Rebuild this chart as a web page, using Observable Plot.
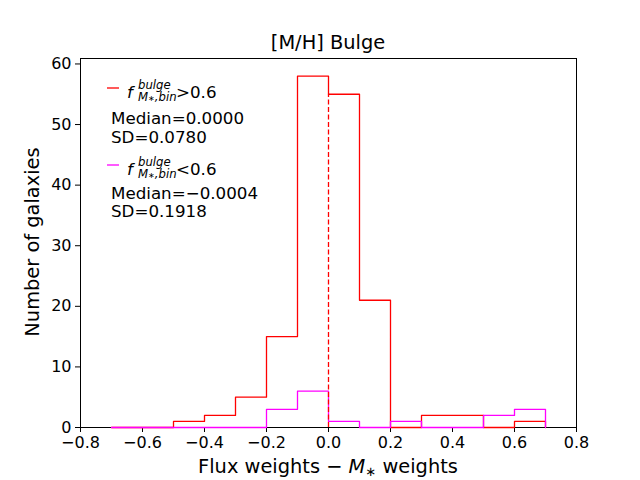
<!DOCTYPE html>
<html>
<head>
<meta charset="utf-8">
<script src="https://cdn.jsdelivr.net/npm/d3@7"></script>
<script src="https://cdn.jsdelivr.net/npm/@observablehq/plot@0.6"></script>
<style>
  body { margin: 0; background: #fff; }
  svg text { font-family: "DejaVu Sans", sans-serif; }
</style>
</head>
<body>
<div id="chart"></div>
<script>
const binEdges = [-0.7, -0.6, -0.5, -0.4, -0.3, -0.2, -0.1, 0.0, 0.1, 0.2, 0.3, 0.4, 0.5, 0.6, 0.7];
const highCounts = [0, 0, 1, 2, 5, 15, 58, 55, 21, 0, 2, 2, 0, 1];
const lowCounts = [0, 0, 0, 0, 0, 3, 6, 1, 0, 1, 0, 0, 2, 3];
const xTicks = [-0.8, -0.6, -0.4, -0.2, 0.0, 0.2, 0.4, 0.6, 0.8];
const yTicks = [0, 10, 20, 30, 40, 50, 60];
const medianHigh = 0.0;
const medianLineTop = 55;

function stepPoints(edges, counts) {
  const pts = [{x: edges[0], y: 0}];
  counts.forEach((c, i) => {
    pts.push({x: edges[i], y: c});
    pts.push({x: edges[i + 1], y: c});
  });
  pts.push({x: edges[edges.length - 1], y: 0});
  return pts;
}

const fmt = d3.format(".1f");

const plot = Plot.plot({
  width: 640,
  height: 480,
  marginLeft: 80,
  marginRight: 64,
  marginTop: 58,
  marginBottom: 53,
  style: {fontFamily: "DejaVu Sans", fontSize: "16px", color: "black", background: "white"},
  x: {domain: [-0.8, 0.8], ticks: xTicks, tickFormat: fmt, label: null, tickSize: 5, tickPadding: 4},
  y: {domain: [0, 60.9], ticks: yTicks, label: null, tickSize: 5, tickPadding: 4},
  marks: [
    Plot.frame({stroke: "black", strokeWidth: 1}),
    Plot.line(stepPoints(binEdges, highCounts), {x: "x", y: "y", stroke: "#ff0000", strokeWidth: 1.3}),
    Plot.line(stepPoints(binEdges, lowCounts), {x: "x", y: "y", stroke: "#ff00ff", strokeWidth: 1.3}),
    Plot.ruleX([medianHigh], {y1: 0, y2: medianLineTop, stroke: "#ff0000", strokeWidth: 1.3, strokeDasharray: "5,2.5"})
  ]
});

document.getElementById("chart").appendChild(plot);
const svg = d3.select(plot);

// Title
svg.append("text").attr("x", 328).attr("y", 49).attr("text-anchor", "middle")
  .attr("font-size", 19.4).attr("fill", "black").text("[M/H] Bulge");

// Y label
svg.append("text").attr("transform", "translate(39,242) rotate(-90)").attr("text-anchor", "middle")
  .attr("font-size", 19.4).attr("fill", "black").text("Number of galaxies");

// X label
const xl = svg.append("text").attr("x", 328).attr("y", 473).attr("text-anchor", "middle")
  .attr("font-size", 19.4).attr("fill", "black");
xl.append("tspan").text("Flux weights \u2212 ");
xl.append("tspan").attr("font-style", "italic").text("M");
xl.append("tspan").attr("font-size", 13).attr("dy", 3).text("\u2217");
xl.append("tspan").attr("font-size", 19.4).attr("dy", -3).text(" weights");

// Legend
function txt(x, y, size) {
  return svg.append("text").attr("x", x).attr("y", y).attr("font-size", size)
    .attr("text-anchor", "start").attr("fill", "black");
}
function legendEntry(y, color, op) {
  svg.append("line").attr("x1", 107).attr("x2", 119).attr("y1", y - 10).attr("y2", y - 10)
    .attr("stroke", color).attr("stroke-width", 1.3);
  txt(127, y, 16.7).attr("font-style", "italic").text("f");
  txt(138, y - 9, 11.7).attr("font-style", "italic").text("bulge");
  const sub = txt(138, y + 3, 11.7).attr("font-style", "italic");
  sub.append("tspan").text("M");
  sub.append("tspan").attr("font-size", 8).attr("font-style", "normal").text("\u2217");
  sub.append("tspan").text(",bin");
  txt(176, y, 16.7).text(op + "0.6");
}
legendEntry(98, "#ff0000", ">");
legendEntry(175, "#ff00ff", "<");

const statLines = [
  {y: 124, t: "Median=0.0000"},
  {y: 143, t: "SD=0.0780"},
  {y: 199, t: "Median=\u22120.0004"},
  {y: 217, t: "SD=0.1918"}
];
statLines.forEach(s => { txt(111, s.y, 16.7).text(s.t); });
</script>
</body>
</html>
